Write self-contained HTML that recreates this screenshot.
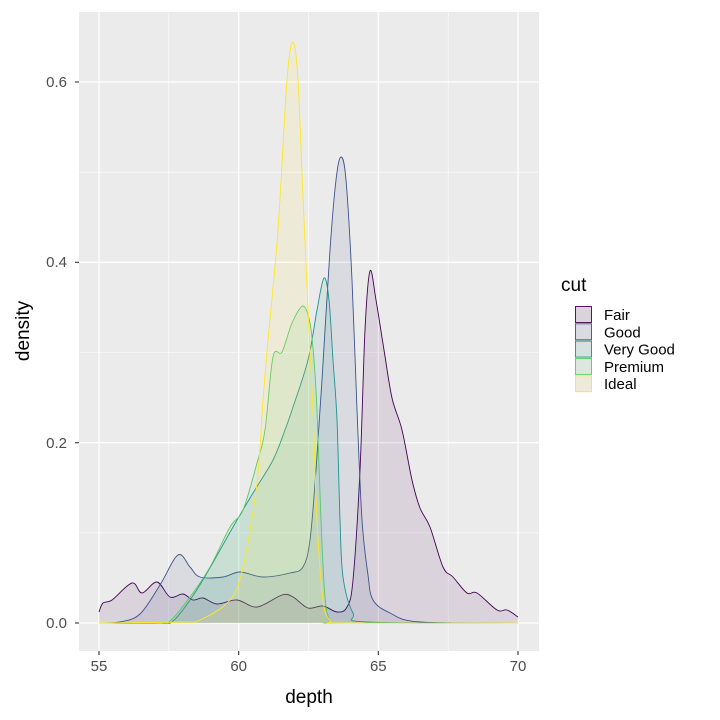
<!DOCTYPE html>
<html><head><style>body{margin:0;background:#fff}svg{display:block}text{font-family:"Liberation Sans",sans-serif}</style></head><body>
<svg id="s" width="720" height="720" viewBox="0 0 720 720">
<rect x="79" y="12" width="460" height="639" fill="#ebebeb"/>
<g stroke="#fff" stroke-width="0.6">
<line x1="79" x2="539" y1="532.8" y2="532.8"/><line x1="79" x2="539" y1="352.5" y2="352.5"/><line x1="79" x2="539" y1="172.2" y2="172.2"/>
<line y1="12" y2="651" x1="168.8" x2="168.8"/><line y1="12" y2="651" x1="308.5" x2="308.5"/><line y1="12" y2="651" x1="448.2" x2="448.2"/>
</g>
<g stroke="#fff" stroke-width="1.3">
<line x1="79" x2="539" y1="623" y2="623"/><line x1="79" x2="539" y1="442.7" y2="442.7"/><line x1="79" x2="539" y1="262.3" y2="262.3"/><line x1="79" x2="539" y1="82" y2="82"/>
<line y1="12" y2="651" x1="99" x2="99"/><line y1="12" y2="651" x1="238.7" x2="238.7"/><line y1="12" y2="651" x1="378.3" x2="378.3"/><line y1="12" y2="651" x1="518" x2="518"/>
</g>
<g id="curves"></g>
<g fill="#4d4d4d" font-size="15" text-anchor="end">
<text x="67" y="628">0.0</text><text x="67" y="448">0.2</text><text x="67" y="267">0.4</text><text x="67" y="87">0.6</text>
</g>
<g stroke="#333" stroke-width="1.1">
<line x1="75" x2="79" y1="623" y2="623"/><line x1="75" x2="79" y1="442.7" y2="442.7"/><line x1="75" x2="79" y1="262.3" y2="262.3"/><line x1="75" x2="79" y1="82" y2="82"/>
<line y1="651" y2="655" x1="99" x2="99"/><line y1="651" y2="655" x1="238.7" x2="238.7"/><line y1="651" y2="655" x1="378.3" x2="378.3"/><line y1="651" y2="655" x1="518" x2="518"/>
</g>
<g fill="#4d4d4d" font-size="15" text-anchor="middle">
<text x="99" y="671">55</text><text x="238.7" y="671">60</text><text x="378.3" y="671">65</text><text x="518" y="671">70</text>
</g>
<text x="309" y="703" font-size="19" text-anchor="middle">depth</text>
<text transform="translate(29,331) rotate(-90)" font-size="19" text-anchor="middle">density</text>
<text x="561" y="291" font-size="19">cut</text>
<g id="leg"></g>
</svg>
<script>
var S=[
["#440154",[[99,612],[103,603],[112,600],[132,583],[142,593],[157,582],[170,597],[183,594],[193,600],[203,598],[217,604],[237,600],[257,607],[282,595],[293,597],[308,608],[323,606],[337,612],[347,607],[353,580],[360,470],[365,330],[370,271],[376,300],[384,350],[392,398],[402,430],[412,480],[420,508],[430,527],[443,567],[453,577],[467,593],[477,593],[497,610],[507,610],[518,617]]],
["#3b528b",[[99,623],[120,622],[140,614],[160,585],[178,555],[190,567],[200,577],[223,577],[240,572],[263,577],[290,573],[303,567],[310,540],[316,470],[322,380],[330,250],[336,180],[341,157],[346,180],[352,280],[357,410],[362,520],[368,575],[373,600],[390,613],[420,622],[518,623]]],
["#21908d",[[99,623],[160,623],[173,621],[190,600],[207,573],[233,527],[253,493],[273,460],[285,430],[292,410],[308,360],[317,310],[324,278],[329,300],[333,360],[337,420],[340,520],[343,577],[353,613],[367,622],[518,623]]],
["#5dc863",[[99,623],[155,623],[170,621],[190,597],[210,567],[230,527],[243,510],[257,463],[265,430],[273,357],[282,352],[292,323],[303,306],[310,323],[314,360],[317,410],[321,520],[325,597],[330,620],[340,623],[518,623]]],
["#fde725",[[99,623],[180,622],[200,620],[230,600],[243,567],[257,483],[263,400],[268,340],[278,230],[287,80],[293,42],[298,80],[303,197],[309,330],[313,410],[317,520],[323,600],[330,620],[345,623],[518,623]]]
];
function cr(p){var d="M"+p[0][0]+","+p[0][1];for(var i=0;i<p.length-1;i++){var a=p[i-1]||p[i],b=p[i],c=p[i+1],e=p[i+2]||c;d+=" C"+(b[0]+(c[0]-a[0])/6)+","+(b[1]+(c[1]-a[1])/6)+" "+(c[0]-(e[0]-b[0])/6)+","+(c[1]-(e[1]-b[1])/6)+" "+c[0]+","+c[1];}return d;}
var g=document.getElementById("curves"),h="";
S.forEach(function(s){var d=cr(s[1]);h+='<path d="'+d+' L518,623 L99,623 Z" fill="'+s[0]+'" fill-opacity="0.1" stroke="none"/><path d="'+d+'" fill="none" stroke="'+s[0]+'" stroke-width="0.9"/>';});
g.innerHTML=h;
var L=["Fair","Good","Very Good","Premium","Ideal"],lh="";
L.forEach(function(n,i){var y=306+i*17.3;lh+='<rect x="575.5" y="'+(y+0.5)+'" width="16" height="16" fill="#ebebeb" stroke="none"/><rect x="575.5" y="'+(y+0.5)+'" width="16" height="16" fill="'+S[i][0]+'" fill-opacity="0.1" stroke="'+S[i][0]+'" stroke-width="0.9"/><text x="604" y="'+(y+14)+'" font-size="15">'+n+'</text>';});
document.getElementById("leg").innerHTML=lh;
</script>
</body></html>
